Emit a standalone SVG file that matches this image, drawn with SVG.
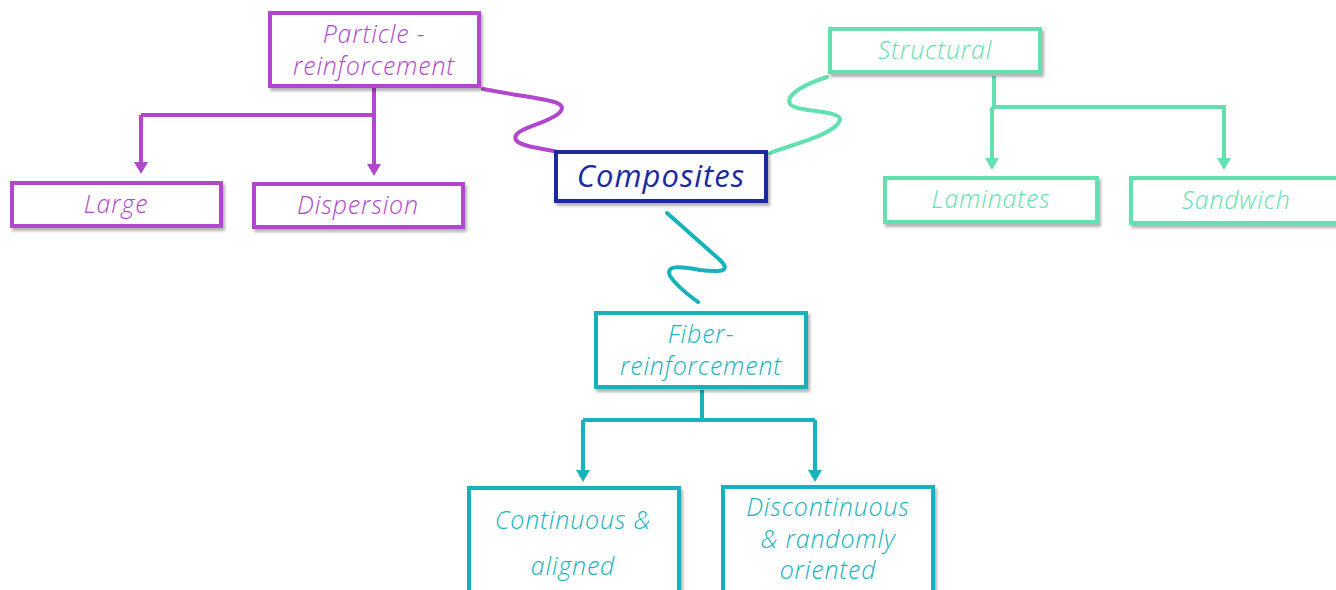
<svg xmlns="http://www.w3.org/2000/svg" width="1336" height="590" viewBox="0 0 1336 590">
<defs>
<filter id="sh" x="-10%" y="-10%" width="130%" height="140%">
<feDropShadow dx="2" dy="3" stdDeviation="1.5" flood-color="#000" flood-opacity="0.3"/>
</filter>
</defs>
<style>
.box{fill:#fff;stroke-width:4;filter:url(#sh)}
.t{font-family:"Open Sans",Lato,"Liberation Sans",sans-serif;font-style:italic;font-weight:300;font-size:25px;letter-spacing:0.8px;text-anchor:middle}
.p{stroke:#b146cf}
.m{stroke:#62e0b0}
.c{stroke:#17b2bc}
.pt{fill:#b146cf}
.mt{fill:#62e0b0}
.ct{fill:#17b2bc}
.ln{fill:none;stroke-width:4}
</style>
<g id="connectors">
<path class="ln p" d="M374,88 V115 M141,115 H374 M141,115 V164 M374,115 V166"/>
<path class="pt" d="M134,162 L148,162 L141,174 Z"/>
<path class="pt" d="M367,164 L381,164 L374,176 Z"/>
<path class="ln p" d="M483,89 C540,100 570,100 560,112 C550,124 510,128 516,140 C522,148 545,148 557,152" stroke-linecap="round"/>
<path class="ln m" d="M994,76 V107 H1224 V160 M992,107 V160"/>
<path class="mt" d="M985,158 L999,158 L992,170 Z"/>
<path class="mt" d="M1217,158 L1231,158 L1224,170 Z"/>
<path class="ln m" d="M827,77 C805,84 785,95 790,104 C795,112 842,110 840,120 C835,135 790,145 770,153" stroke-linecap="round"/>
<path class="ln c" d="M667,213 L720,260 C730,270 725,273 700,270 C680,266 665,265 670,276 C678,288 690,296 698,302" stroke-linecap="round"/>
<path class="ln c" d="M702,390 V420 M583,420 H815 M583,420 V472 M815,420 V472"/>
<path class="ct" d="M576,470 L590,470 L583,482 Z"/>
<path class="ct" d="M808,470 L822,470 L815,482 Z"/>
</g>
<g id="particle">
<rect class="box p" x="270" y="13" width="209" height="73"/>
<text class="t pt" x="374" y="43">Particle -</text>
<text class="t pt" x="374" y="75">reinforcement</text>
</g>
<g id="large">
<rect class="box p" x="12" y="183" width="209" height="43"/>
<text class="t pt" x="116" y="213">Large</text>
</g>
<g id="dispersion">
<rect class="box p" x="254" y="184" width="209" height="43"/>
<text class="t pt" x="358" y="214">Dispersion</text>
</g>
<g id="composites">
<rect class="box" stroke="#1b2a9e" x="556" y="152" width="210" height="49"/>
<text class="t" fill="#1b2a9e" style="font-size:31px;font-weight:400;letter-spacing:1px" x="661" y="187">Composites</text>
</g>
<g id="structural">
<rect class="box m" x="830" y="29" width="210" height="43"/>
<text class="t mt" x="935" y="59">Structural</text>
</g>
<g id="laminates">
<rect class="box m" x="885" y="178" width="212" height="44"/>
<text class="t mt" x="991" y="208">Laminates</text>
</g>
<g id="sandwich">
<rect class="box m" x="1131" y="178" width="210" height="45"/>
<text class="t mt" x="1236" y="209">Sandwich</text>
</g>
<g id="fiber">
<rect class="box c" x="596" y="313" width="210" height="74"/>
<text class="t ct" x="701" y="343">Fiber-</text>
<text class="t ct" x="701" y="375">reinforcement</text>
</g>
<g id="continuous">
<rect class="box c" x="469" y="488" width="210" height="110"/>
<text class="t ct" x="573" y="529">Continuous &amp;</text>
<text class="t ct" x="573" y="575">aligned</text>
</g>
<g id="discontinuous">
<rect class="box c" x="723" y="487" width="210" height="110"/>
<text class="t ct" x="828" y="516">Discontinuous</text>
<text class="t ct" x="828" y="548">&amp; randomly</text>
<text class="t ct" x="828" y="579">oriented</text>
</g>
</svg>
